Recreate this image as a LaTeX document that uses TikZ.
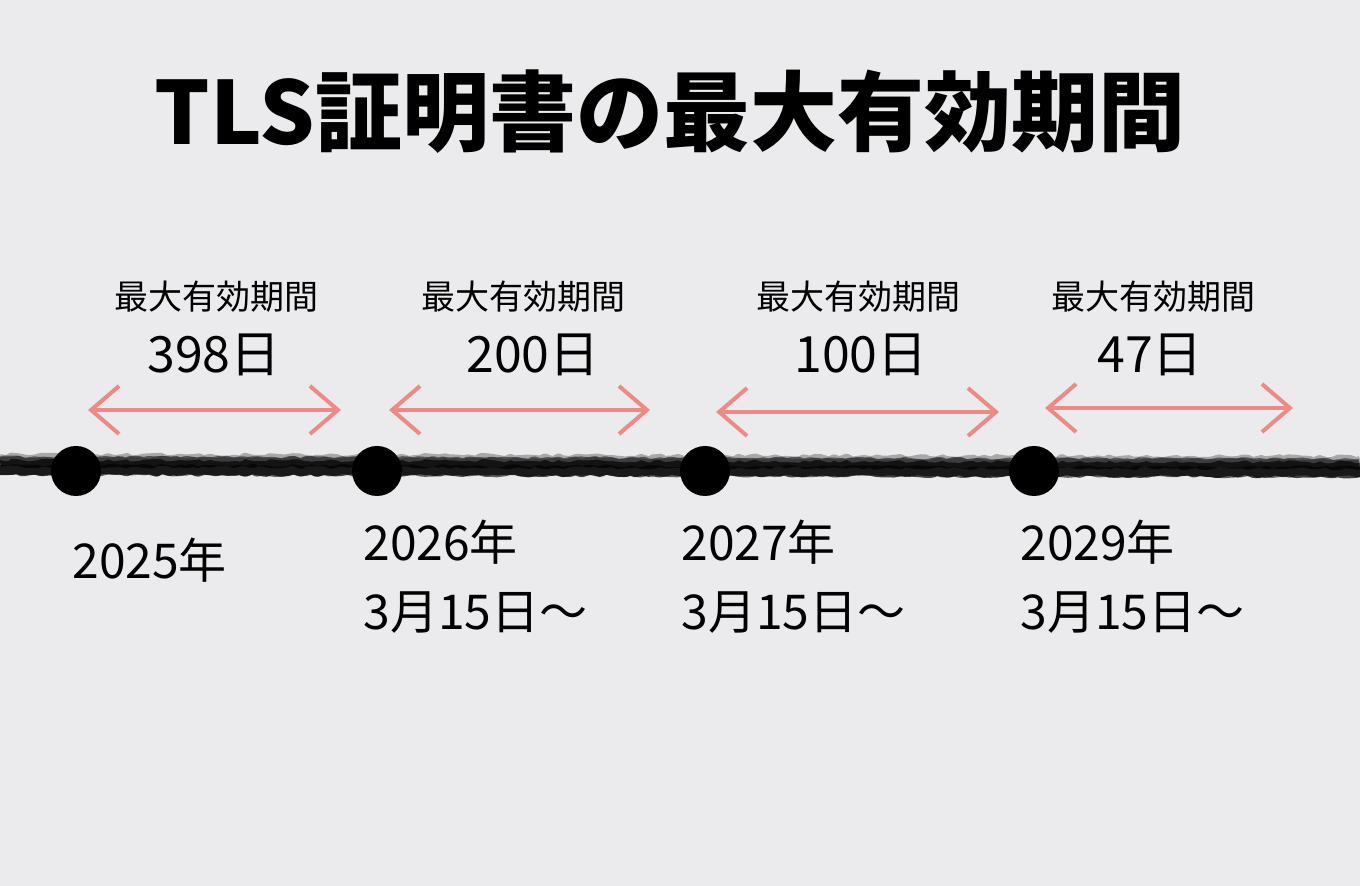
\documentclass[tikz,border=0pt]{standalone}
\usepackage{fontspec}
\setmainfont{Noto Sans CJK JP}
\usetikzlibrary{arrows.meta,decorations.pathmorphing}

\definecolor{bggray}{HTML}{EBEBED}
\definecolor{arrowpink}{HTML}{EE8A86}

\tikzstyle{mydot} = [circle, fill=black, inner sep=0pt, minimum size=25pt]
\tikzstyle{myarrow} = [draw=arrowpink, line width=2pt, line cap=round,
    {Straight Barb[length=14pt,width=24pt]}-{Straight Barb[length=14pt,width=24pt]}]
\tikzstyle{roughline} = [line join=round, decorate,
    decoration={random steps, segment length=3pt, amplitude=0.8pt}]
\tikzstyle{period} = [font=\fontsize{17}{20}\selectfont, inner sep=0pt]
\tikzstyle{days} = [font=\fontsize{25}{28}\selectfont, inner sep=0pt]
\tikzstyle{year} = [font=\fontsize{24}{34.5}\selectfont, align=left,
    anchor=west, inner sep=0pt]

\begin{document}
\begin{tikzpicture}[x=0.5pt, y=-0.5pt]
\fill [bggray] (0,0) rectangle (1360,886);
\useasboundingbox (0,0) rectangle (1360,886);

% title
\node [font=\fontsize{43.5}{52}\selectfont\bfseries, inner sep=0pt] (title)
    at (670,112) {TLS証明書の最大有効期間};

% timeline
\coordinate (tl-w) at (0,466);
\coordinate (tl-e) at (1360,468);
\draw [roughline, line width=9pt, black!75] (tl-w) -- (tl-e);
\draw [roughline, line width=5pt, black, opacity=0.7] ([yshift=2pt]tl-w) -- ([yshift=2pt]tl-e);
\draw [roughline, line width=5pt, black, opacity=0.6] ([yshift=-2pt]tl-w) -- ([yshift=-2pt]tl-e);
\draw [roughline, line width=3pt, black!60, opacity=0.5] ([yshift=4.5pt]tl-w) -- ([yshift=4.5pt]tl-e);

\node [mydot] (d2025) at (76,471) {};
\node [mydot] (d2026) at (377,471) {};
\node [mydot] (d2027) at (705,471) {};
\node [mydot] (d2029) at (1034,471) {};

% periods
\node [period] (p1) at (216,297) {最大有効期間};
\node [days] (n1) at (214,355) {398日};
\node [period] (p2) at (523,297) {最大有効期間};
\node [days] (n2) at (533,355) {200日};
\node [period] (p3) at (858,297) {最大有効期間};
\node [days] (n3) at (861,355) {100日};
\node [period] (p4) at (1153,297) {最大有効期間};
\node [days] (n4) at (1150,355) {47日};

\coordinate (a1-w) at (88,410);   \coordinate (a1-e) at (341,410);
\coordinate (a2-w) at (389,410);  \coordinate (a2-e) at (650,410);
\coordinate (a3-w) at (716,412);  \coordinate (a3-e) at (999,412);
\coordinate (a4-w) at (1045,408); \coordinate (a4-e) at (1293,408);
\draw [myarrow] (a1-w) -- (a1-e);
\draw [myarrow] (a2-w) -- (a2-e);
\draw [myarrow] (a3-w) -- (a3-e);
\draw [myarrow] (a4-w) -- (a4-e);

% dates
\node [year] (y2025) at (72,560) {2025年};
\node [year] (y2026) at (363,577) {2026年\\3月15日～};
\node [year] (y2027) at (681,577) {2027年\\3月15日～};
\node [year] (y2029) at (1020,577) {2029年\\3月15日～};
\end{tikzpicture}
\end{document}
